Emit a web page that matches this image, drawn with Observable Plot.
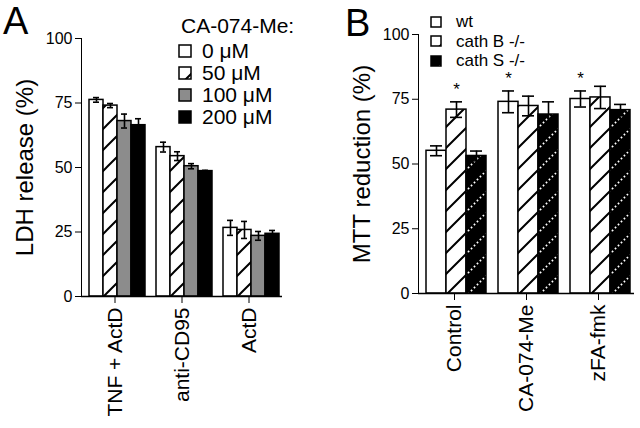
<!DOCTYPE html>
<html><head><meta charset="utf-8">
<script src="https://cdn.jsdelivr.net/npm/d3@7"></script>
<script src="https://cdn.jsdelivr.net/npm/@observablehq/plot@0.6"></script>
<style>
html,body{margin:0;padding:0;background:#fff;}
#wrap{position:relative;width:640px;height:428px;display:flex;font-family:"Liberation Sans",Arial,sans-serif;color:#000;}
.panel{position:relative;width:320px;height:428px;}
.panel svg{display:block;}
.plab{position:absolute;font-size:38px;line-height:1;}
.leg{position:absolute;}
.leg .row{display:flex;align-items:center;white-space:nowrap;overflow:visible;}
.leg .sw{flex:none;}
svg [aria-label="y-axis label"]{font-size:24px;}
svg [aria-label="fx-axis tick label"]{font-size:21px;}
svg [aria-label="y-axis tick label"]{font-size:16px;}
</style></head><body>
<svg width="0" height="0" style="position:absolute">
<defs>
<pattern id="hatchA" patternUnits="userSpaceOnUse" width="21" height="21">
<rect width="21" height="21" fill="#fff"/>
<path d="M0,21L21,0M-3,3L3,-3M18,24L24,18" stroke="#000" stroke-width="2"/>
</pattern>
<pattern id="hatchB" patternUnits="userSpaceOnUse" width="21" height="21">
<rect width="21" height="21" fill="#fff"/>
<path d="M0,21L21,0M-3,3L3,-3M18,24L24,18" stroke="#000" stroke-width="2"/>
</pattern>
<pattern id="dotS" patternUnits="userSpaceOnUse" width="21" height="21">
<rect width="21" height="21" fill="#000"/>
<path d="M0,21L21,0M-3,3L3,-3M18,24L24,18" stroke="#fff" stroke-width="1.8" stroke-dasharray="1.6 2.6"/>
</pattern>
</defs>
</svg>
<div id="wrap">
  <div class="panel" id="pa"></div>
  <div class="panel" id="pb"></div>
</div>
<script>
// ---- Panel A data ----
const groupsA = ["TNF + ActD", "anti-CD95", "ActD"];
const concsA = ["0 μM", "50 μM", "100 μM", "200 μM"];
const ldhTNF = [76.2, 74.0, 68.0, 66.4];
const ldhTNFerr = [0.9, 0.8, 2.7, 2.5];
const ldhCD95 = [57.9, 54.4, 50.5, 48.6];
const ldhCD95err = [1.9, 1.7, 1.0, 0.3];
const ldhActD = [26.6, 25.8, 23.5, 24.3];
const ldhActDerr = [2.9, 3.3, 1.7, 1.3];
const yTicksA = [0, 25, 50, 75, 100];

// ---- Panel B data ----
const groupsB = ["Control", "CA-074-Me", "zFA-fmk"];
const genotypesB = ["wt", "cath B -/-", "cath S -/-"];
const mttControl = [55.1, 71.0, 53.1];
const mttControlErr = [1.9, 3.0, 1.9];
const mttCA074 = [74.0, 72.4, 69.1];
const mttCA074Err = [4.2, 3.8, 4.9];
const mttZFA = [75.1, 75.7, 70.8];
const mttZFAErr = [3.1, 4.3, 2.2];
const starControl = [false, true, false];
const starCA074 = [true, false, false];
const starZFA = [true, false, false];
const yTicksB = [0, 25, 50, 75, 100];

const font = '"Liberation Sans", Arial, sans-serif';

function rows(groups, keys, vals, errs, stars) {
  return groups.flatMap((g, i) => keys.map((k, j) => ({
    group: g, key: k, v: vals[i][j], e: errs[i][j], star: stars ? stars[i][j] : false
  })));
}

const dataA = rows(groupsA, concsA, [ldhTNF, ldhCD95, ldhActD], [ldhTNFerr, ldhCD95err, ldhActDerr]);
const dataB = rows(groupsB, genotypesB, [mttControl, mttCA074, mttZFA], [mttControlErr, mttCA074Err, mttZFAErr], [starControl, starCA074, starZFA]);

const fillsA = ["#ffffff", "url(#hatchA)", "#8c8c8c", "#000000"];
const fillsB = ["#ffffff", "url(#hatchB)", "url(#dotS)"];

function panel(data, groups, keys, fills, ticks, label, opts) {
  return Plot.plot({
    width: 320, height: 428,
    marginLeft: opts.ml, marginRight: opts.mr, marginTop: opts.mt, marginBottom: opts.mb,
    style: {fontFamily: font, fontSize: "16px", color: "#000", background: "#fff"},
    fx: {domain: groups, padding: 0, axis: "bottom", label: null, tickSize: 7, tickPadding: 4, tickRotate: -90},
    x: {domain: keys, paddingInner: 0, paddingOuter: opts.po, align: opts.align, axis: null},
    y: {domain: [0, 100], ticks: ticks, tickSize: 6, tickPadding: 3, line: true,
        label: label, labelAnchor: "center", labelOffset: opts.lo, labelArrow: false},
    color: {type: "ordinal", domain: keys, range: fills},
    marks: [
      Plot.barY(data, {fx: "group", x: "key", y: "v", fill: "key", stroke: "#000", strokeWidth: 1.5}),
      Plot.ruleX(data, {fx: "group", x: "key", y1: d => d.v - d.e, y2: d => d.v + d.e, stroke: "#000", strokeWidth: 1.6}),
      Plot.tickY(data, {fx: "group", x: "key", y: d => d.v + d.e, insetLeft: 4, insetRight: 4, stroke: "#000", strokeWidth: 1.6}),
      Plot.tickY(data, {fx: "group", x: "key", y: d => d.v - d.e, insetLeft: 4, insetRight: 4, stroke: "#000", strokeWidth: 1.6}),
      Plot.text(data.filter(d => d.star), {fx: "group", x: "key", y: d => d.v + d.e, text: () => "*", dy: -12, fontSize: 17, fill: "#000"}),
      Plot.ruleY([0], {stroke: "#000", strokeWidth: 1.6})
    ]
  });
}

const A = panel(dataA, groupsA, concsA, fillsA, yTicksA, "LDH release (%)", {ml: 80, mr: 38, mt: 38, mb: 132, po: 0.27, align: 0.75, lo: 66});
const B = panel(dataB, groupsB, genotypesB, fillsB, yTicksB, "MTT reduction (%)", {ml: 97, mr: 6, mt: 34, mb: 135, po: 0.22, align: 0.65, lo: 66});
document.getElementById("pa").appendChild(A);
document.getElementById("pb").appendChild(B);

function legend(parent, title, keys, fills, o) {
  const box = document.createElement("div");
  box.className = "leg";
  box.style.left = o.left + "px";
  box.style.top = o.top + "px";
  box.style.fontSize = o.fs + "px";
  if (title) {
    const t = document.createElement("div");
    t.textContent = title;
    t.style.lineHeight = o.th + "px";
    t.style.height = o.th + "px";
    t.style.marginLeft = o.tl + "px";
    box.appendChild(t);
  }
  keys.forEach((k, i) => {
    const r = document.createElement("div");
    r.className = "row";
    r.style.height = o.rh + "px";
    const s = o.sw;
    r.innerHTML = `<svg class="sw" width="${s + 2}" height="${s + 2}"><rect x="1" y="1" width="${s}" height="${s}" fill="${fills[i]}" stroke="#000" stroke-width="1.5"/></svg><span style="margin-left:${o.gap}px;line-height:${o.rh}px;display:inline-block;height:${o.rh}px">${k}</span>`;
    box.appendChild(r);
  });
  parent.appendChild(box);
}
legend(document.getElementById("pa"), "CA-074-Me:", concsA, fillsA, {left: 178, top: 12, fs: 21, th: 28, tl: 3, rh: 22, sw: 12, gap: 10});
legend(document.getElementById("pb"), null, genotypesB, fillsB, {left: 110, top: 12, fs: 17, rh: 19.6, sw: 10, gap: 14});

for (const [id, t, l, tp] of [["pa", "A", 3, 2], ["pb", "B", 25, 4]]) {
  const d = document.createElement("div");
  d.className = "plab"; d.textContent = t; d.style.left = l + "px"; d.style.top = tp + "px";
  document.getElementById(id).appendChild(d);
}
</script>
</body></html>
